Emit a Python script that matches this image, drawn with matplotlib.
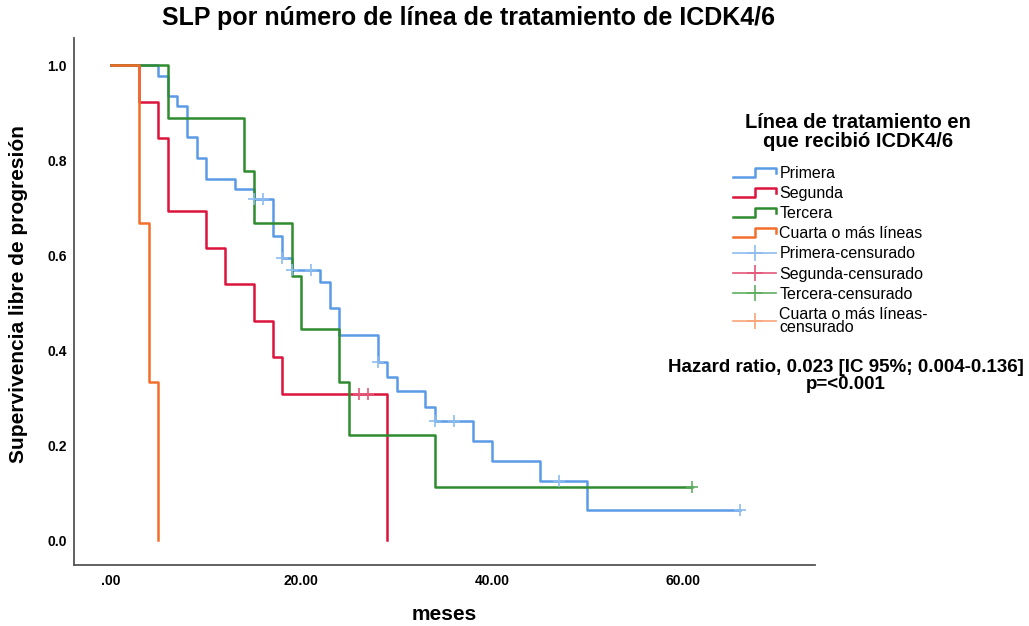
import numpy as np
import matplotlib
matplotlib.use("Agg")
import matplotlib.pyplot as plt
from matplotlib.lines import Line2D
from matplotlib.legend_handler import HandlerBase

plt.rcParams['font.family'] = ['Liberation Sans', 'DejaVu Sans']

# Kaplan-Meier steps (time in months, survival)
primera_t = [0, 5, 6, 7, 8, 9, 10, 13, 15, 17, 18, 19, 22, 23, 24, 28, 29, 30, 33, 34, 38, 40, 45, 50, 66]
primera_s = [1.0, 0.978, 0.935, 0.913, 0.848, 0.804, 0.761, 0.739, 0.717, 0.641, 0.593, 0.569,
             0.543, 0.488, 0.432, 0.375, 0.344, 0.314, 0.281, 0.25, 0.209, 0.167, 0.125, 0.0625, 0.0625]
primera_cens = [15, 16, 18, 19, 21, 28, 34, 36, 47, 66]

segunda_t = [0, 3, 5, 6, 10, 12, 15, 17, 18, 29]
segunda_s = [1.0, 0.923, 0.846, 0.692, 0.615, 0.538, 0.462, 0.385, 0.308, 0.0]
segunda_cens = [26, 27]

tercera_t = [0, 6, 14, 15, 19, 20, 24, 25, 34, 61]
tercera_s = [1.0, 0.889, 0.778, 0.667, 0.556, 0.444, 0.333, 0.222, 0.111, 0.111]
tercera_cens = [61]

cuarta_t = [0, 3, 4, 5]
cuarta_s = [1.0, 0.667, 0.333, 0.0]
cuarta_cens = []

labels = ["Primera", "Segunda", "Tercera", "Cuarta o más líneas"]
colors = ["#5b9be6", "#dc143c", "#2e8b2e", "#f26f2b"]
cens_colors = ["#8dbcf0", "#e4587a", "#5fae5f", "#f8a579"]


class StepHandler(HandlerBase):
    # little step glyph used by the legend for the curves
    def create_artists(self, legend, orig_handle, xdescent, ydescent,
                       width, height, fontsize, trans):
        x0 = -xdescent
        y0 = -ydescent
        xs = [x0, x0 + 0.5 * width, x0 + 0.5 * width, x0 + width, x0 + width]
        ys = [y0 + 0.1 * height, y0 + 0.1 * height, y0 + 0.9 * height,
              y0 + 0.9 * height, y0 + 0.45 * height]
        line = Line2D(xs, ys, color=orig_handle.get_color(),
                      lw=orig_handle.get_linewidth())
        line.set_transform(trans)
        return [line]


fig = plt.figure(figsize=(10.29, 6.26), dpi=100)
ax = fig.add_axes([74 / 1029, 1 - 565 / 626, 741 / 1029, 527 / 626])

groups = [
    (primera_t, primera_s, primera_cens),
    (segunda_t, segunda_s, segunda_cens),
    (tercera_t, tercera_s, tercera_cens),
    (cuarta_t, cuarta_s, cuarta_cens),
]

curve_handles = []
cens_handles = []
for i, (t, s, c) in enumerate(groups):
    h, = ax.step(t, s, where='post', color=colors[i], lw=1.8, zorder=2 + i)
    curve_handles.append(h)
    if c:
        idx = np.searchsorted(t, c, side='right') - 1
        ax.plot(c, np.array(s)[idx], ls='none', marker='+', ms=8, mew=1.2,
                color=cens_colors[i], zorder=6)
    cens_handles.append(Line2D([], [], color=cens_colors[i], lw=1.2,
                               marker='+', ms=12, mew=1.2))

ax.set_xlim(-3.86, 73.9)
ax.set_ylim(-0.0526, 1.057)
ax.set_xticks([0, 20, 40, 60])
ax.set_xticklabels([".00", "20.00", "40.00", "60.00"])
ax.set_yticks([0, 0.2, 0.4, 0.6, 0.8, 1.0])
ax.set_yticklabels(["0.0", "0.2", "0.4", "0.6", "0.8", "1.0"])
ax.tick_params(axis='x', length=0, pad=6.5, labelsize=10)
ax.tick_params(axis='y', length=0, pad=5, labelsize=10)
for lab in ax.get_xticklabels() + ax.get_yticklabels():
    lab.set_fontweight('bold')

for side in ['top', 'right']:
    ax.spines[side].set_visible(False)
for side in ['left', 'bottom']:
    ax.spines[side].set_color('#555555')
    ax.spines[side].set_linewidth(1.3)

ax.set_xlabel("meses", fontsize=15, fontweight='bold', labelpad=12)
ax.set_ylabel("Supervivencia libre de progresión", fontsize=15, fontweight='bold')
ax.yaxis.set_label_coords(-0.062, 0.515)

fig.text(469 / 1029, 1 - 18 / 626, "SLP por número de línea de tratamiento de ICDK4/6",
         ha='center', va='center', fontsize=18, fontweight='bold')

# legend
fig.text(858 / 1029, 1 - 132 / 626, "Línea de tratamiento en\nque recibió ICDK4/6",
         ha='center', va='center', fontsize=14.5, fontweight='bold', linespacing=1.0)

leg_labels = labels + [l + "-censurado" for l in labels[:3]] + ["Cuarta o más líneas-\ncensurado"]
handler_map = {h: StepHandler() for h in curve_handles}
leg = fig.legend(curve_handles + cens_handles, leg_labels, handler_map=handler_map,
                 loc='upper left', bbox_to_anchor=(733 / 1029, 1 - 166 / 626),
                 frameon=False, fontsize=11.5, handlelength=2.7, handletextpad=0.2,
                 labelspacing=0.32, borderpad=0, borderaxespad=0)
for t in leg.get_texts():
    t.set_linespacing(0.85)

fig.text(846 / 1029, 1 - 376 / 626,
         "Hazard ratio, 0.023 [IC 95%; 0.004-0.136]\np=<0.001",
         ha='center', va='center', fontsize=13.5, fontweight='bold', linespacing=1.0)

fig.savefig("out.png", dpi=100)
